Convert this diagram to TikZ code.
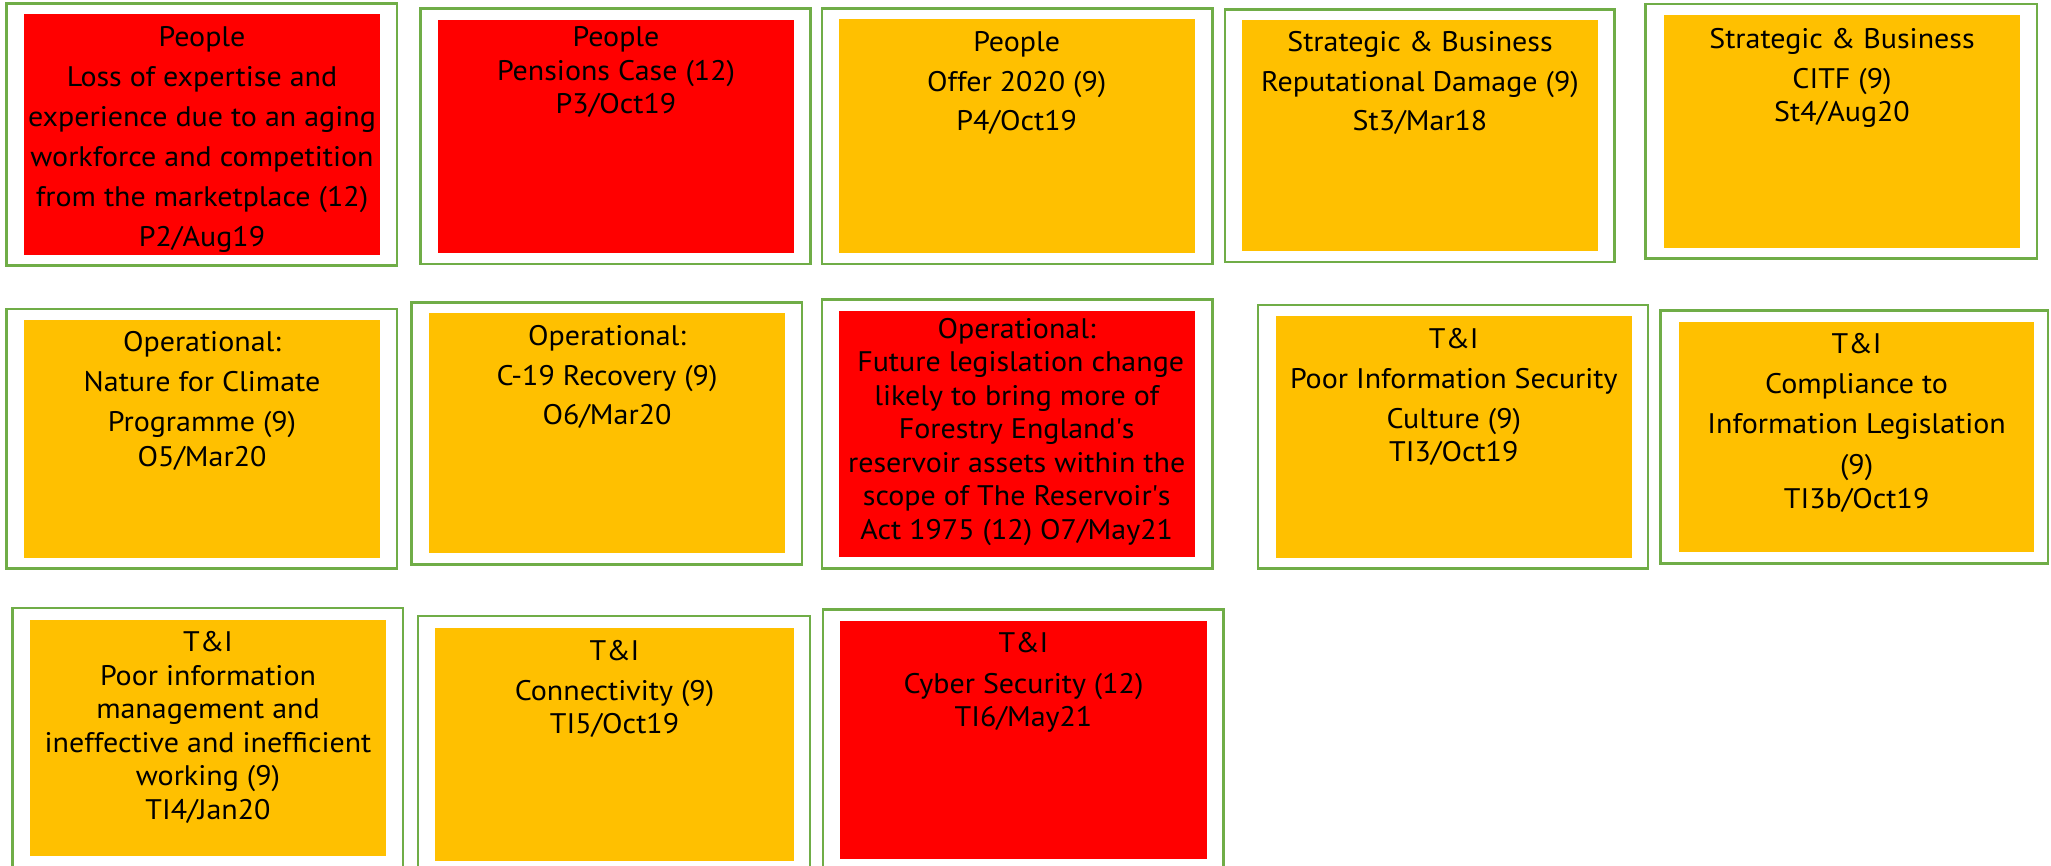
\documentclass[tikz,border=0pt]{standalone}
\usepackage{fontspec}
\setmainfont[FakeStretch=1.06]{PT Sans}
\definecolor{amber}{HTML}{FFC000}
\definecolor{riskred}{HTML}{FF0000}
\definecolor{framegreen}{HTML}{70AD47}
\tikzset{
  outerbox/.style={draw=framegreen, line width=2.5pt, fill=white},
  redfill/.style={fill=riskred},
  amberfill/.style={fill=amber},
  lbl/.style={anchor=north, inner sep=0pt, outer sep=0pt, align=center, text=black,
              font=\fontsize{28.3}{33.5}\selectfont},
}
\newcommand{\fs}{\rule{0pt}{22pt}}
\begin{document}
\begin{tikzpicture}[x=1pt,y=-1pt]
\useasboundingbox (0,0) rectangle (2051,865);
% ---------- Row 1 ----------
\path[outerbox] (6.7,3.3) rectangle (397,265.7);
\path[redfill] (24,14) rectangle (380,254.7);
\node[lbl] (p2) at (202,24.7) {\fs People\\[6.5pt] Loss of expertise and\\[6.5pt] experience due to an aging\\[6.5pt] workforce and competition\\[6.5pt] from the marketplace (12)\\[6.5pt] P2/Aug19};

\path[outerbox] (420.5,8.3) rectangle (810.7,264);
\path[redfill] (438,20) rectangle (794,252.7);
\node[lbl] (p3) at (616,24.7) {\fs People\\ Pensions Case (12)\\ P3/Oct19};

\path[outerbox] (822,8.3) rectangle (1212.5,264);
\path[amberfill] (838.8,19) rectangle (1194.6,252.7);
\node[lbl] (p4) at (1016.7,29.7) {\fs People\\[6.5pt] Offer 2020 (9)\\[5.5pt] P4/Oct19};

\path[outerbox] (1225,9.3) rectangle (1614.6,262);
\path[amberfill] (1242,20) rectangle (1598,250.7);
\node[lbl] (st3) at (1420,29.7) {\fs Strategic \& Business\\[6.5pt] Reputational Damage (9)\\[5.5pt] St3/Mar18};

\path[outerbox] (1645.7,4) rectangle (2036.8,258.7);
\path[amberfill] (1664,15) rectangle (2019.8,247.7);
\node[lbl] (st4) at (1842,26.3) {\fs Strategic \& Business\\[6.5pt] CITF (9)\\ St4/Aug20};

% ---------- Row 2 ----------
\path[outerbox] (6.7,309) rectangle (397,568.7);
\path[amberfill] (24,320) rectangle (380,557.7);
\node[lbl] (o5) at (202,329.7) {\fs Operational:\\[6.5pt] Nature for Climate\\[6.5pt] Programme (9)\\[1.5pt] O5/Mar20};

\path[outerbox] (411.6,302.3) rectangle (801.8,564.3);
\path[amberfill] (429,313.3) rectangle (784.8,552.7);
\node[lbl] (o6) at (607,323) {\fs Operational:\\[7pt] C-19 Recovery (9)\\[5.5pt] O6/Mar20};

\path[outerbox] (822,299.3) rectangle (1212.5,568.7);
\path[redfill] (838.8,311) rectangle (1194.6,556.7);
\node[lbl] (o7) at (1016.7,316.3) {\fs Operational:\\ \ Future legislation change\\ likely to bring more of\\ Forestry England\textquotesingle s\\ reservoir assets within the\\ scope of The Reservoir\textquotesingle s\\ Act 1975 (12) O7/May21};

\path[outerbox] (1258,305) rectangle (1648,568.7);
\path[amberfill] (1276,316) rectangle (1631.6,557.7);
\node[lbl] (ti3) at (1453.8,326.3) {\fs T\&I\\[6.5pt] Poor Information Security\\[6.5pt] Culture (9)\\ TI3/Oct19};

\path[outerbox] (1660.7,310.7) rectangle (2048,563.3);
\path[amberfill] (1679,322.3) rectangle (2034.3,551.7);
\node[lbl] (ti3b) at (1856.6,331.3) {\fs T\&I\\[6.5pt] Compliance to\\[6.5pt] Information Legislation\\[8pt] (9)\\ TI3b/Oct19};

% ---------- Row 3 ----------
\path[outerbox] (12.5,608) rectangle (403,872);
\path[amberfill] (30,620) rectangle (386,855.7);
\node[lbl] (ti4) at (208,629.7) {\fs T\&I\\ Poor information\\ management and\\ ineffective and inefficient\\ working (9)\\ TI4/Jan20};

\path[outerbox] (418,616) rectangle (810,872);
\path[amberfill] (435,627.7) rectangle (794,860.7);
\node[lbl] (ti5) at (614.5,638) {\fs T\&I\\[6.5pt] Connectivity (9)\\ TI5/Oct19};

\path[outerbox] (822.8,609.3) rectangle (1223.7,872);
\path[redfill] (840,621) rectangle (1207,858.7);
\node[lbl] (ti6) at (1023.5,630.7) {\fs T\&I\\[7pt] Cyber Security (12)\\ TI6/May21};
\end{tikzpicture}
\end{document}
